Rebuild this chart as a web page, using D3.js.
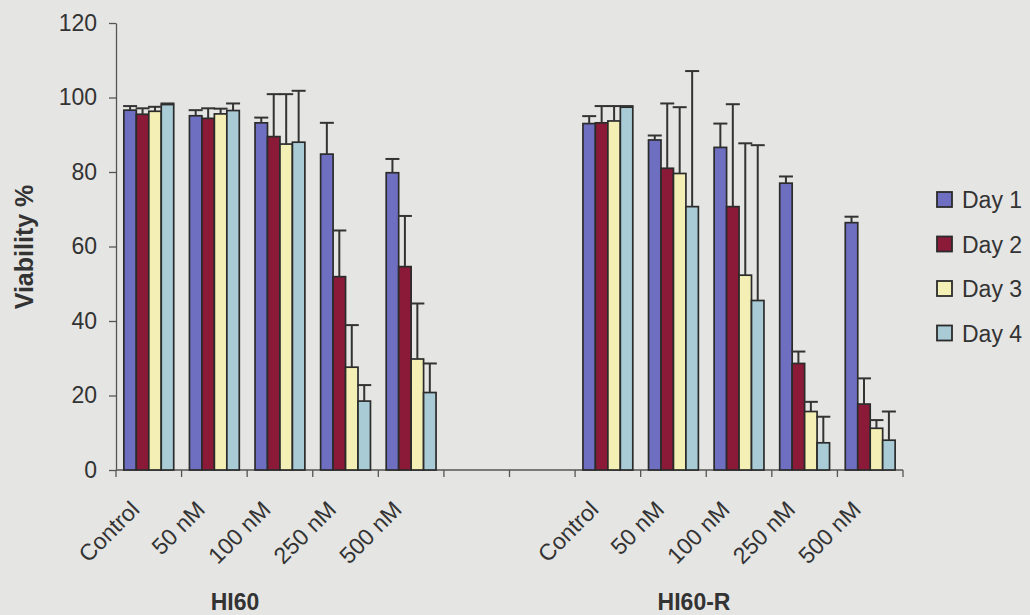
<!DOCTYPE html>
<html>
<head>
<meta charset="utf-8">
<script src="https://cdn.jsdelivr.net/npm/d3@7/dist/d3.min.js"></script>
<style>
  html, body { margin: 0; padding: 0; background: #e5e5e3; }
  svg { display: block; font-family: "Liberation Sans", Arial, sans-serif; }
</style>
</head>
<body>
<svg id="chart" width="1030" height="615"></svg>
<script>
// Treatment slots along the x axis (two blank slots separate the cell lines)
const tickLabels = ["Control", "50 nM", "100 nM", "250 nM", "500 nM", "", "",
                    "Control", "50 nM", "100 nM", "250 nM", "500 nM"];
const groupLabels = ["HI60", "HI60-R"];
const seriesNames = ["Day 1", "Day 2", "Day 3", "Day 4"];
const yTicks = [0, 20, 40, 60, 80, 100, 120];

// Mean viability (%) per slot
const day1 = [96.6, 95.1, 93.2, 84.8, 79.8, 0, 0, 93.0, 88.6, 86.6, 77.0, 66.4];
const day2 = [95.5, 94.4, 89.5, 51.9, 54.6, 0, 0, 93.2, 81.0, 70.7, 28.6, 17.7];
const day3 = [96.3, 95.6, 87.5, 27.6, 29.8, 0, 0, 93.7, 79.6, 52.3, 15.7, 11.2];
const day4 = [98.1, 96.5, 88.0, 18.5, 20.8, 0, 0, 97.4, 70.7, 45.5, 7.3, 8.0];

// Upper error (SD) per slot
const err1 = [1.1, 1.5, 1.4, 8.4, 3.7, 0, 0, 2.0, 1.2, 6.4, 1.8, 1.6];
const err2 = [1.6, 2.7, 11.4, 12.4, 13.6, 0, 0, 4.5, 17.4, 27.5, 3.2, 6.9];
const err3 = [1.2, 1.4, 13.4, 11.3, 14.9, 0, 0, 4.0, 17.8, 35.4, 2.6, 2.2];
const err4 = [0.3, 1.9, 13.8, 4.3, 7.8, 0, 0, 0.3, 36.4, 41.7, 7.0, 7.7];

const colors = ["#6f6fc2", "#8a1a38", "#f4efb4", "#a9cbd6"];

const values = [day1, day2, day3, day4];
const errors = [err1, err2, err3, err4];

const svg = d3.select("#chart");
const plotLeft = 116, plotRight = 903, plotTop = 23, plotBottom = 470;

const slots = d3.range(tickLabels.length);
const x0 = d3.scaleBand().domain(slots).range([plotLeft, plotRight])
  .paddingInner(0.24).paddingOuter(0.12);
const x1 = d3.scaleBand().domain(d3.range(seriesNames.length))
  .range([0, x0.bandwidth()]).padding(0);
const y = d3.scaleLinear().domain([0, 120]).range([plotBottom, plotTop]);

const ink = "#2b2b2b";

// y axis
const yAxis = svg.append("g")
  .attr("transform", `translate(${plotLeft},0)`)
  .call(d3.axisLeft(y).tickValues(yTicks).tickSize(7).tickSizeOuter(0).tickPadding(12));
yAxis.select(".domain").attr("stroke", "#555").attr("stroke-width", 1.3);
yAxis.selectAll(".tick line").attr("stroke", "#555").attr("stroke-width", 1.3);
yAxis.selectAll(".tick text").attr("font-size", 23).attr("fill", "#333");

// x axis line with ticks on slot boundaries
const halfGap = x0.step() * x0.paddingInner() / 2;
const boundaries = slots.map(i => x0(i) - halfGap)
  .concat([x0(slots[slots.length - 1]) + x0.bandwidth() + halfGap]);
svg.append("line")
  .attr("x1", plotLeft).attr("x2", boundaries[boundaries.length - 1])
  .attr("y1", y(0)).attr("y2", y(0))
  .attr("stroke", "#555").attr("stroke-width", 1.3);
svg.append("g").selectAll("line").data(boundaries).join("line")
  .attr("x1", d => d).attr("x2", d => d)
  .attr("y1", y(0)).attr("y2", y(0) + 7)
  .attr("stroke", "#555").attr("stroke-width", 1.3);

// bars
const barGroups = svg.append("g").selectAll("g").data(values).join("g")
  .attr("fill", (d, s) => colors[s]);
barGroups.each(function (series, s) {
  const g = d3.select(this);
  const data = slots.filter(i => series[i] > 0);
  g.selectAll("rect").data(data).join("rect")
    .attr("x", i => x0(i) + x1(s))
    .attr("width", x1.bandwidth())
    .attr("y", i => y(series[i]))
    .attr("height", i => y(0) - y(series[i]))
    .attr("stroke", ink).attr("stroke-width", 1.7);
});

// upper error bars
const errG = svg.append("g").attr("stroke", "#333").attr("stroke-width", 2).attr("fill", "none");
values.forEach((series, s) => {
  slots.filter(i => series[i] > 0).forEach(i => {
    const cx = x0(i) + x1(s) + x1.bandwidth() / 2;
    const yTop = y(series[i] + errors[s][i]);
    errG.append("line").attr("x1", cx).attr("x2", cx).attr("y1", y(series[i])).attr("y2", yTop);
    errG.append("line").attr("x1", cx - 7).attr("x2", cx + 7).attr("y1", yTop).attr("y2", yTop);
  });
});

// rotated category labels
svg.append("g").selectAll("text").data(slots.filter(i => tickLabels[i] !== "")).join("text")
  .attr("transform", i => `translate(${x0(i) + x0.bandwidth() / 2 - 8},511) rotate(-45)`)
  .attr("text-anchor", "end")
  .attr("font-size", 23)
  .attr("fill", "#333")
  .text(i => tickLabels[i]);

// cell line labels
const groupSlots = [[0, 4], [7, 11]];
svg.append("g").selectAll("text").data(groupLabels).join("text")
  .attr("x", (d, k) => (x0(groupSlots[k][0]) + x0(groupSlots[k][1]) + x0.bandwidth()) / 2 - 45)
  .attr("y", 610)
  .attr("text-anchor", "middle")
  .attr("font-size", 23)
  .attr("font-weight", "bold")
  .attr("fill", "#333")
  .text(d => d);

// y axis title
svg.append("text")
  .attr("transform", `translate(33,247) rotate(-90)`)
  .attr("text-anchor", "middle")
  .attr("font-size", 25)
  .attr("font-weight", "bold")
  .attr("fill", "#333")
  .text("Viability %");

// legend
const legend = svg.append("g").selectAll("g").data(seriesNames).join("g")
  .attr("transform", (d, k) => `translate(937,${200 + k * 44.5})`);
legend.append("rect")
  .attr("x", 0).attr("y", -8).attr("width", 15).attr("height", 15)
  .attr("fill", (d, k) => colors[k])
  .attr("stroke", ink).attr("stroke-width", 1.8);
legend.append("text")
  .attr("x", 25).attr("y", 8)
  .attr("font-size", 23)
  .attr("fill", "#333")
  .text(d => d);
</script>
</body>
</html>
